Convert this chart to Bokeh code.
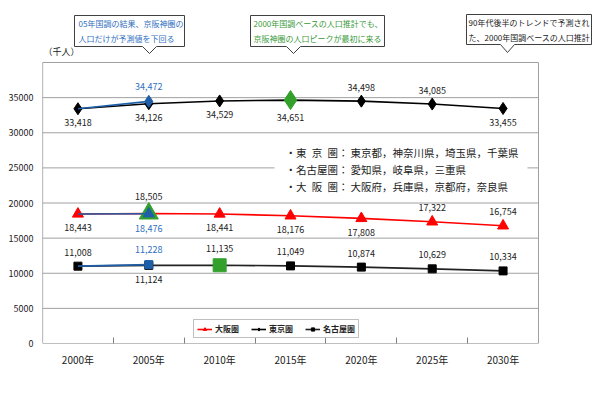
from bokeh.plotting import figure
from bokeh.core.properties import value
from bokeh.models import (Range1d, FixedTicker, ColumnDataSource, LabelSet, Label,
                          Legend, LegendItem, BoxAnnotation)
from bokeh.embed import file_html
from bokeh.resources import INLINE

# ---------------- data ----------------
years = ["2000年", "2005年", "2010年", "2015年", "2020年", "2025年", "2030年"]
tokyo = [33418, 34126, 34529, 34651, 34498, 34085, 33455]     # 東京圏 (projection)
osaka = [18443, 18505, 18441, 18176, 17808, 17322, 16754]     # 大阪圏 (projection)
nagoya = [11008, 11124, 11135, 11049, 10874, 10629, 10334]    # 名古屋圏 (projection)
# 2005 census results
tokyo_2005 = 34472
osaka_2005 = 18476
nagoya_2005 = 11228
y_ticks = [0, 5000, 10000, 15000, 20000, 25000, 30000, 35000]
y_max = 40000

# label placement (above / below the point)
tokyo_pos = ["below", "below", "below", "below", "above", "above", "below"]
osaka_pos = ["below", "above", "below", "below", "below", "above", "above"]
nagoya_pos = ["above", "below", "above", "above", "above", "above", "above"]

FONT = "Noto Sans CJK JP"
RED = "#ff0000"
BLACK = "#000000"
BLUE = "#1f5fa8"
BLUE_T = "#2f6fc0"
GREEN = "#33a02c"
GREEN_T = "#3a9a3a"
TXT = "#222222"
GRID = "#a0a0a0"
AXIS = "#808080"

x = list(range(len(years)))
x_lo, x_hi = -0.5, len(years) - 0.5

# ---- geometry in canvas pixels ----
W, H = 600, 395
CL, CR_AREA, CB, CT_AREA = 42, 538, 343, 62     # plot area (axes box)
CT_FRAME, CR_FRAME = 10, 593                    # frame extends up/right to hold callouts
PXX = (CR_AREA - CL) / (x_hi - x_lo)
PXY = (CB - CT_AREA) / y_max

def dx(px):          # picture x -> data x
    return x_lo + (px - CL) / PXX
def dy(py):          # picture y -> data y
    return (CB - py) / PXY
def sx(px):          # picture x -> screen units (frame-relative)
    return px - CL
def sy(py):
    return CB - py

p = figure(width=W, height=H,
           frame_width=CR_FRAME - CL, frame_height=CB - CT_FRAME,
           min_border_left=CL, min_border_right=W - CR_FRAME, min_border_top=CT_FRAME,
           min_border_bottom=H - CB,
           x_range=Range1d(x_lo, dx(CR_FRAME)), y_range=Range1d(0, dy(CT_FRAME)),
           output_backend="svg", toolbar_location=None,
           background_fill_color="white", border_fill_color="white")
p.outline_line_color = None
p.grid.visible = False

# axes (lines drawn as part of the plot-area box below)
p.xaxis.ticker = FixedTicker(ticks=x, minor_ticks=[i + 0.5 for i in x[:-1]])
p.xaxis.major_label_overrides = {i: y for i, y in zip(x, years)}
p.xaxis.axis_line_color = None
p.xaxis.major_tick_line_color = None
p.xaxis.major_tick_in = 0
p.xaxis.major_tick_out = 0
p.xaxis.minor_tick_in = 6
p.xaxis.minor_tick_out = 0
p.xaxis.minor_tick_line_color = AXIS
p.xaxis.major_label_standoff = 8
p.xaxis.major_label_text_font = FONT
p.xaxis.major_label_text_font_size = "10px"
p.xaxis.major_label_text_color = TXT

p.yaxis.ticker = FixedTicker(ticks=y_ticks)
p.yaxis.axis_line_color = None
p.yaxis.major_tick_line_color = None
p.yaxis.minor_tick_line_color = None
p.yaxis.major_tick_in = 0
p.yaxis.major_tick_out = 0
p.yaxis.major_label_standoff = 9
p.yaxis.major_label_text_font = FONT
p.yaxis.major_label_text_font_size = "9px"
p.yaxis.major_label_text_color = TXT

# plot-area box and horizontal grid lines
p.segment(x0=[x_lo] * (len(y_ticks) - 1), x1=[x_hi] * (len(y_ticks) - 1),
          y0=y_ticks[1:], y1=y_ticks[1:], line_color=GRID, line_width=1)
p.segment(x0=[x_lo, x_hi], x1=[x_hi, x_hi], y0=[y_max, 0], y1=[y_max, y_max],
          line_color=GRID, line_width=1)
p.segment(x0=[x_lo, x_lo], x1=[x_lo, x_hi], y0=[0, 0], y1=[y_max, 0],
          line_color=AXIS, line_width=1.2)

# ---------------- series ----------------
r_t_line = p.line(x, tokyo, line_color=BLACK, line_width=1.6)
r_o_line = p.line(x, osaka, line_color=RED, line_width=1.6)
r_n_line = p.line(x, nagoya, line_color="#222222", line_width=1.6)

r_t_pts = p.scatter(x, tokyo, marker="diamond", size=12, color=BLACK)
r_o_pts = p.scatter(x, osaka, marker="triangle", size=11, color=RED)
r_n_pts = p.scatter(x, nagoya, marker="square", size=8, color=BLACK)

# peaks of the 2000-base projection (green)
tp = tokyo.index(max(tokyo))
op = osaka.index(max(osaka))
npk = nagoya.index(max(nagoya))
p.scatter([x[tp]], [tokyo[tp]], marker="diamond", size=19, color=GREEN)
p.scatter([x[op]], [osaka[op]], marker="triangle", size=19, color=GREEN)
p.scatter([x[npk]], [nagoya[npk]], marker="square", size=13, color=GREEN)

# 2005 census results (blue)
for series, actual, mk, sz in [(tokyo, tokyo_2005, "diamond", 12),
                               (osaka, osaka_2005, "triangle", 11),
                               (nagoya, nagoya_2005, "square", 8)]:
    p.line([x[0], x[1]], [series[0], actual], line_color=BLUE, line_width=1.6)
    p.scatter([x[1]], [actual], marker=mk, size=sz, color=BLUE)

# ---------------- data labels ----------------
lx, ly, lt, ld, lc = [], [], [], [], []
def add_labels(values, pos, peak):
    for i, (v, ps) in enumerate(zip(values, pos)):
        off = 14 if i != peak else 17
        lx.append(x[i]); ly.append(v); lt.append(f"{v:,}")
        ld.append(off if ps == "above" else -off)
        lc.append(TXT)
add_labels(tokyo, tokyo_pos, tp)
add_labels(osaka, osaka_pos, op)
add_labels(nagoya, nagoya_pos, npk)
for actual, ps in [(tokyo_2005, "above"), (osaka_2005, "below"), (nagoya_2005, "above")]:
    lx.append(x[1]); ly.append(actual); lt.append(f"{actual:,}")
    ld.append(15 if ps == "above" else -15)
    lc.append(BLUE_T)

lab_src = ColumnDataSource(dict(x=lx, y=ly, text=lt, dy=ld, color=lc))
p.add_layout(LabelSet(x="x", y="y", text="text", y_offset="dy", text_color="color",
                      source=lab_src, text_align="center", text_baseline="middle",
                      text_font=value(FONT), text_font_size="9px"))

# ---------------- region note box inside the plot ----------------
p.add_layout(BoxAnnotation(left=sx(274), right=sx(527), top=sy(140), bottom=sy(196),
                           left_units="screen", right_units="screen",
                           top_units="screen", bottom_units="screen",
                           fill_color="white", fill_alpha=1.0, line_color=None))
notes = [("・東\u2002京\u2002圏：", "東京都，神奈川県，埼玉県，千葉県", 152),
         ("・名古屋圏：", "愛知県，岐阜県，三重県", 169),
         ("・大\u2002阪\u2002圏：", "大阪府，兵庫県，京都府，奈良県", 186)]
for pre, body, yy in notes:
    for txt, xx in [(pre, 285), (body, 350)]:
        p.add_layout(Label(x=sx(xx), y=sy(yy), x_units="screen", y_units="screen",
                           text=txt, text_font=FONT, text_font_size="10.5px",
                           text_color=TXT, text_baseline="middle"))

# ---------------- callouts above the plot area ----------------
callouts = [
    (74, 184, 15, 46, 149, 53, BLUE_T, ["05年国調の結果、京阪神圏の", "人口だけが予測値を下回る"], 78),
    (250, 384, 15, 46, 293, 53, GREEN_T, ["2000年国調ベースの人口推計でも、", "京阪神圏の人口ピークが最初に来る"], 253),
    (466, 591, 14, 44, 507, 52, TXT, ["90年代後半のトレンドで予測され", "た、2000年国調ベースの人口推計"], 468),
]
for L, R, T, B, tx, ty, col, lines, tx0 in callouts:
    h = 7
    xs = [L, R, R, tx + h, tx, tx - h, L]
    ys = [T, T, B, B, ty, B, B]
    p.patch([dx(v) for v in xs], [dy(v) for v in ys], fill_color="white",
            line_color="#404040", line_width=1)
    mid = (T + B) / 2
    p.text([dx(tx0), dx(tx0)], [dy(mid - 7.5), dy(mid + 7.5)], text=lines,
           text_font=value(FONT), text_font_size="8px", text_color=col,
           text_baseline="middle", text_align="left")

p.text([dx(43)], [dy(51)], text=["（千人）"], text_font=value(FONT), text_font_size="9px",
       text_color=TXT, text_baseline="middle", text_align="left")

# ---------------- legend (inside the frame, bottom of the plot area) ----------------
legend = Legend(items=[LegendItem(label="大阪圏", renderers=[r_o_line, r_o_pts]),
                       LegendItem(label="東京圏", renderers=[r_t_line, r_t_pts]),
                       LegendItem(label="名古屋圏", renderers=[r_n_line, r_n_pts])],
                location=(151, 5), orientation="horizontal",
                border_line_color=AXIS, border_line_width=1,
                background_fill_color="white", background_fill_alpha=1.0,
                padding=3, spacing=12, label_standoff=3, margin=0,
                glyph_width=15, glyph_height=8, label_height=8,
                label_text_font=FONT, label_text_font_size="8px",
                label_text_font_style="bold", label_text_color=TXT)
p.add_layout(legend)

open("out.html", "w").write(file_html(p, INLINE))
